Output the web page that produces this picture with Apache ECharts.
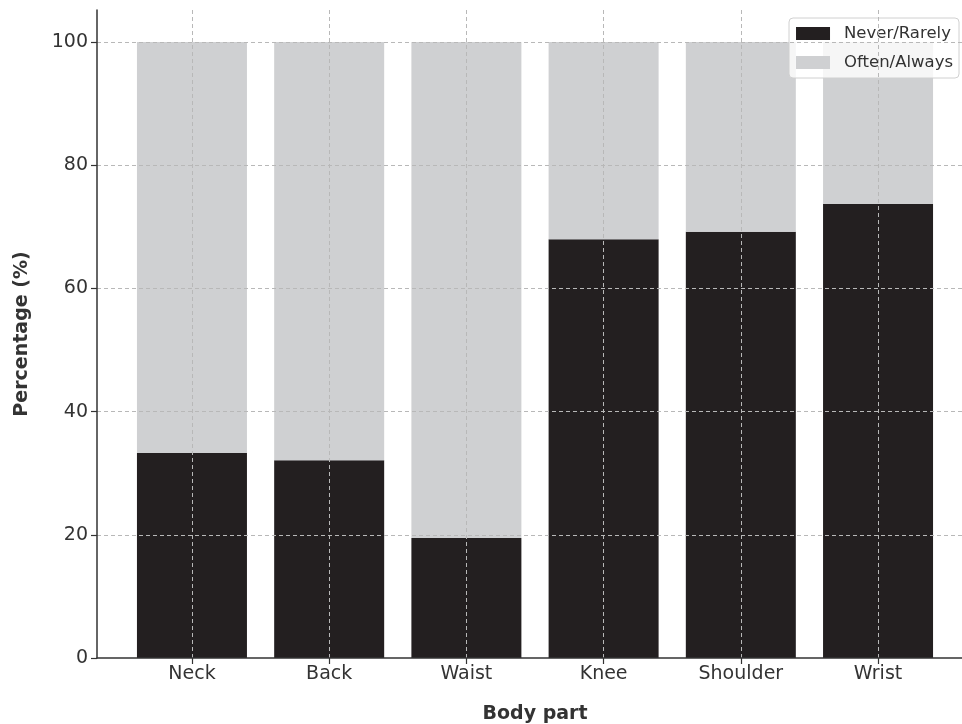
<!DOCTYPE html>
<html><head><meta charset="utf-8">
<script src="https://cdn.jsdelivr.net/npm/echarts@6/dist/echarts.min.js"></script>
<style>html,body{margin:0;padding:0;background:#fff}#c{width:962px;height:724px}</style>
</head><body><div id="c"></div>
<script>
const categories = ['Neck', 'Back', 'Waist', 'Knee', 'Shoulder', 'Wrist'];
const neverRarely = [33.3, 32.1, 19.5, 68.0, 69.2, 73.7];
const oftenAlways = [66.7, 67.9, 80.5, 32.0, 30.8, 26.3];
const yTicks = [0, 20, 40, 60, 80, 100];
const seriesNames = ['Never/Rarely', 'Often/Always'];

const chart = echarts.init(document.getElementById('c'), null, {renderer: 'canvas'});
const font = 'DejaVu Sans';
const xTicks = categories.map((c, i) => i);
const dash = {color: '#b8b8b8', type: [4, 3], width: 1};
chart.setOption({
  animation: false,
  textStyle: {fontFamily: font},
  grid: {left: 97, right: -11, top: 10, bottom: 66, containLabel: false, outerBoundsMode: 'none'},
  legend: {
    orient: 'vertical', right: 3, top: 18,
    data: seriesNames,
    icon: 'rect', itemWidth: 34, itemHeight: 13, itemGap: 12,
    textStyle: {fontSize: 16.5, color: '#333', fontFamily: font, padding: [0, 0, 0, 9]},
    backgroundColor: 'rgba(255,255,255,0.8)', borderColor: '#d0d0d0', borderWidth: 1, borderRadius: 4,
    padding: [7, 6, 7, 7]
  },
  xAxis: {
    type: 'value', min: -0.692, max: 5.692, minInterval: 1, maxInterval: 1, z: 5,
    name: 'Body part', nameLocation: 'middle', nameGap: 47,
    nameTextStyle: {fontSize: 19, fontWeight: 'bold', color: '#333', fontFamily: font},
    axisLine: {show: true, onZero: false, lineStyle: {color: '#333', width: 1.5}},
    axisTick: {show: true, customValues: xTicks, length: 6, lineStyle: {color: '#333', width: 1.2}},
    axisLabel: {customValues: xTicks, formatter: v => categories[Math.round(v)] || '', fontSize: 19, color: '#333', margin: 7, fontFamily: font},
    splitLine: {show: true, showMinLine: true, showMaxLine: true, lineStyle: dash}
  },
  yAxis: {
    type: 'value', min: 0, max: 105.2, interval: 20, z: 5,
    name: 'Percentage (%)', nameLocation: 'middle', nameGap: 65,
    nameTextStyle: {fontSize: 19, fontWeight: 'bold', color: '#333', fontFamily: font},
    axisLine: {show: true, onZero: false, lineStyle: {color: '#333', width: 1.5}},
    axisTick: {show: true, customValues: yTicks, length: 6, lineStyle: {color: '#333', width: 1.2}},
    axisLabel: {customValues: yTicks, fontSize: 19, color: '#333', margin: 9, fontFamily: font},
    splitLine: {show: true, showMinLine: false, showMaxLine: true, lineStyle: dash}
  },
  series: [
    {name: seriesNames[0], type: 'bar', stack: 's', barWidth: 110, z: 2, encode: {x: 1, y: 0},
     itemStyle: {color: '#231f20'}, data: neverRarely.map((v, i) => [v, i])},
    {name: seriesNames[1], type: 'bar', stack: 's', barWidth: 110, z: 2, encode: {x: 1, y: 0},
     itemStyle: {color: '#cfd0d2'}, data: oftenAlways.map((v, i) => [v, i])}
  ]
});
</script></body></html>
